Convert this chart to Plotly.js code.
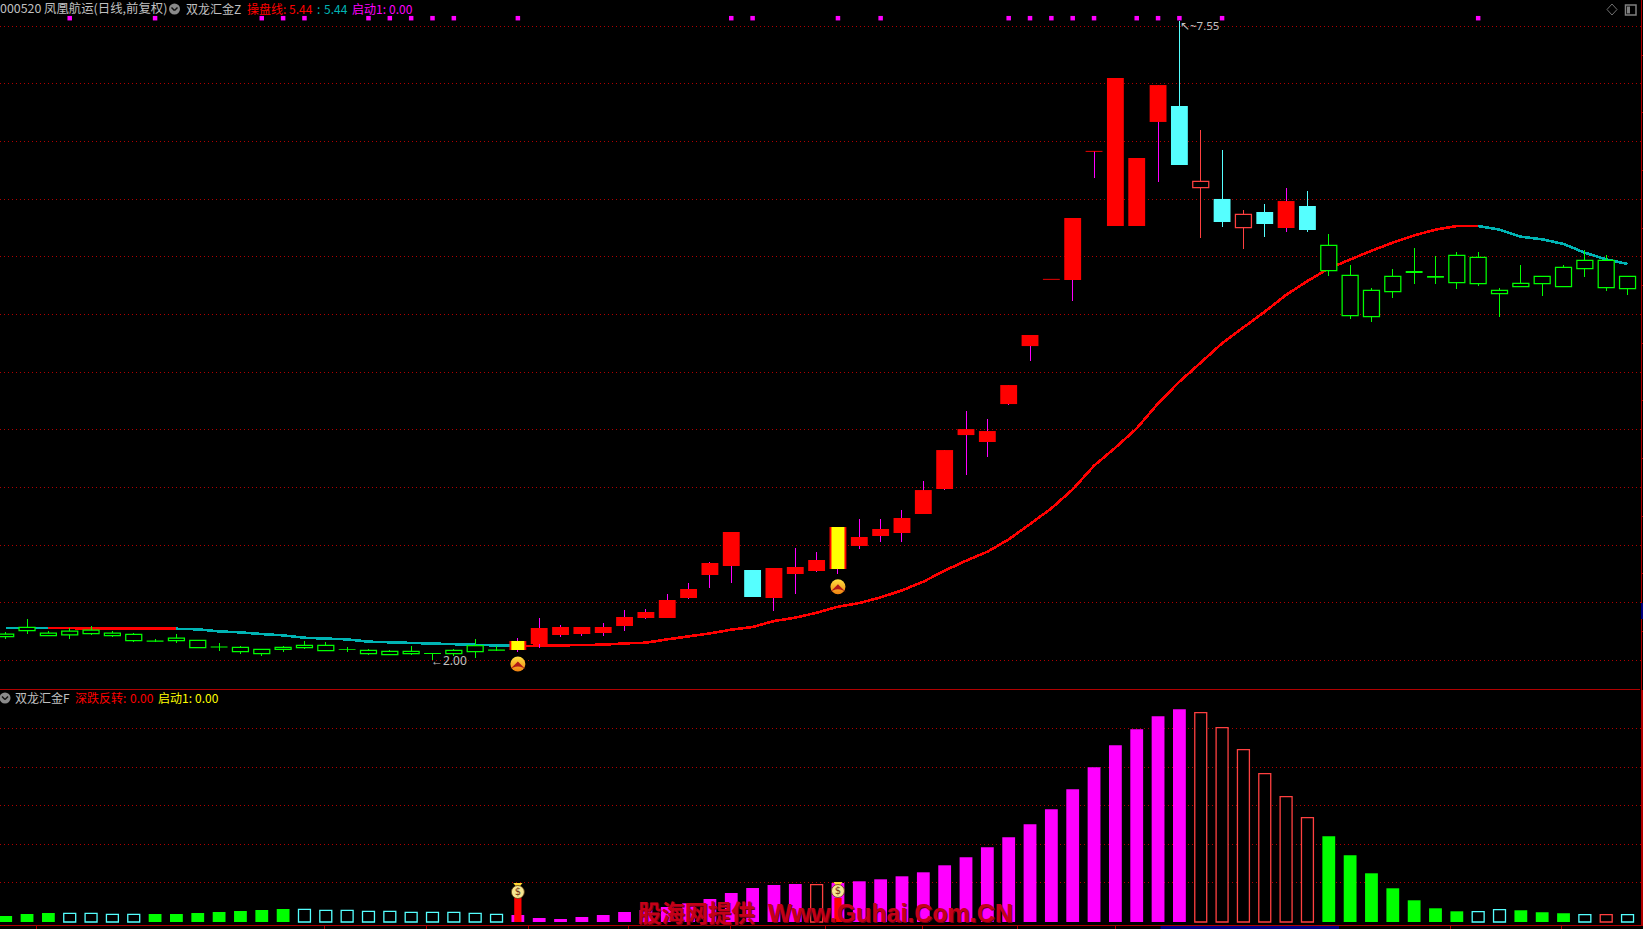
<!DOCTYPE html>
<html>
<head>
<meta charset="utf-8">
<script src="https://cdn.plot.ly/plotly-3.0.1.min.js"></script>
<style>html,body{margin:0;padding:0;background:#000;overflow:hidden}#c{width:1643px;height:929px}
.scatterlayer .js-line{shape-rendering:crispEdges}</style>
</head>
<body>
<div id="c"></div>
<script>
// ---------- data ----------
const bodyTop = [2.228,2.286,2.237,2.254,2.263,2.237,2.225,2.173,2.193,2.173,2.121,2.112,2.095,2.112,2.130,2.130,2.099,2.086,2.078,2.078,2.064,2.086,2.127,2.095,2.167,2.280,2.289,2.289,2.289,2.376,2.419,2.523,2.619,2.844,3.113,2.783,2.801,2.809,2.870,3.156,3.070,3.139,3.234,3.477,3.824,4.006,3.989,4.388,4.822,5.309,5.837,6.419,7.051,6.357,6.990,6.808,6.155,6.002,5.869,5.889,5.984,5.941,5.600,5.339,5.209,5.331,5.377,5.334,5.513,5.496,5.209,5.270,5.331,5.409,5.470,5.470,5.331];
const bodyBottom = [2.205,2.257,2.214,2.222,2.231,2.214,2.170,2.162,2.170,2.110,2.112,2.075,2.058,2.095,2.110,2.084,2.091,2.058,2.049,2.058,2.056,2.058,2.075,2.084,2.089,2.141,2.220,2.228,2.237,2.298,2.367,2.367,2.540,2.740,2.818,2.549,2.540,2.749,2.775,2.792,2.992,3.078,3.104,3.269,3.486,3.954,3.894,4.223,4.726,5.301,5.299,6.411,5.767,5.767,6.670,6.296,6.100,5.802,5.753,5.785,5.750,5.733,5.380,4.990,4.981,5.198,5.360,5.319,5.276,5.267,5.180,5.241,5.267,5.241,5.397,5.232,5.224];
const wickHigh = [2.243,2.358,2.254,2.283,2.298,2.254,2.237,2.188,2.228,2.173,2.150,2.124,2.095,2.124,2.167,2.159,2.112,2.098,2.089,2.124,2.060,2.098,2.185,2.127,2.193,2.367,2.306,2.289,2.324,2.436,2.445,2.575,2.671,2.853,3.113,2.783,2.801,2.974,2.939,3.156,3.226,3.226,3.304,3.555,3.824,4.163,4.093,4.388,4.822,5.305,5.837,6.415,7.051,6.357,6.990,7.55,6.600,6.427,5.906,5.958,6.097,6.071,5.698,5.429,5.230,5.394,5.577,5.507,5.542,5.542,5.230,5.429,5.331,5.429,5.559,5.516,5.331];
const wickLow = [2.188,2.228,2.208,2.185,2.219,2.202,2.159,2.159,2.150,2.110,2.078,2.055,2.037,2.072,2.098,2.084,2.072,2.046,2.046,2.046,2.000,2.040,2.020,2.084,2.072,2.107,2.202,2.211,2.211,2.254,2.358,2.367,2.532,2.627,2.671,2.549,2.428,2.575,2.766,2.749,2.966,3.026,3.026,3.269,3.477,3.607,3.764,4.215,4.596,5.305,5.117,6.187,5.767,5.767,6.149,6.296,5.663,5.759,5.568,5.672,5.715,5.715,5.334,4.961,4.935,5.143,5.264,5.264,5.221,5.247,4.978,5.241,5.160,5.241,5.325,5.204,5.169];
// G hollow green, g solid green, r solid red, y yellow core, c solid cyan, h hollow red
const candleStyle = "GGGGGGGgGGgGGGGGgGGGgGGgyrrrrrrrrrrcrrryrrrrrrrrrrrrrrrchchcrcGGGGggGGGGGGGGGGG".split("");
const controlLine = [2.280,2.280,2.280,2.280,2.280,2.280,2.274,2.274,2.274,2.269,2.251,2.243,2.228,2.217,2.196,2.188,2.182,2.162,2.156,2.153,2.150,2.139,2.136,2.127,2.124,2.127,2.127,2.133,2.136,2.147,2.153,2.182,2.205,2.234,2.266,2.289,2.341,2.370,2.413,2.465,2.497,2.546,2.607,2.682,2.778,2.864,2.942,3.049,3.182,3.318,3.483,3.688,3.845,4.012,4.229,4.417,4.582,4.750,4.888,5.024,5.170,5.290,5.400,5.478,5.553,5.623,5.686,5.736,5.767,5.767,5.736,5.675,5.652,5.611,5.536,5.478,5.438];
// colour of the stretch that starts at each day: c teal, r red
const lineStyle = ("cc"+"rrrrrr"+"cccccccccccccccc"+"rrrrrrrrrrrrrrrrrrrrrrrrrrrrrrrrrrrrrrrrrrrrr"+"cccccccc").split("");
const signalDays = [3,7,12,13,14,17,18,19,20,21,24,34,35,39,41,47,48,49,50,51,53,54,55,57,69];
const signalPrice = [7.57];
const startDays = [24,39];
const startPrice = [1.968,2.638];
const gridPrices = [2,2.5,3,3.5,4,4.5,5,5.5,6,6.5,7,7.5];
const sideTicks = [2.25,2.75,3.25,3.75,4.25,4.75,5.25,5.75,6.25,6.75,7.25];

const oscValues = [6,8,9,8.7,8.7,7.7,7.7,8,8,9,10,11,12,13,12.7,11.7,11.7,10.7,10.7,9.7,9.7,9.7,8.7,7.7,7,4,3,5,7,10,12,15,18.7,23,29,34,37,38,37.3,39,40.7,42.7,45.7,49.7,56.7,64.7,74.7,84.7,97.7,112.7,132.7,154.7,176.7,192.7,205.7,212.7,209.3,194.3,172.3,148.3,125.3,104.3,85.7,66.7,48.7,33.7,21.7,13.7,10.7,10.3,12.3,11.7,9.7,8.7,7.3,7.3,7.3];
// g solid green, C hollow cyan, m solid magenta, h hollow red
const oscStyle = "gggCCCCgggggggCCCCCCCCCCmmmmmmmmmmmmmmhmmmmmmmmmmmmmmmmmhhhhhhgggggggCCgggChC".split("");
const reversalHeights = [25,24];
const bagLevels = [30,31];
const knotLevels = [37,38];
const oscGrid = [39.7,77.7,116.7,154.7,193.7];
const dateTicks = [1.45,14.96,19.7,24.5,29.2,33.97,38.4,42.97,47.4,52,67.7,72.9];

// ---------- palette ----------
const RED='#ff0000', MAG='#ff00ff', CYAN='#55ffff', GREEN='#00ff00', HRED='#ff4040', TEAL='#00b4b4', YEL='#ffff00', GRID='#b00000', AXIS='#b00000';
const idx = bodyTop.map((_,i)=>i);
const fills = {G:'#000',g:GREEN,r:RED,y:RED,c:CYAN,h:'#000'};
const edges = {G:GREEN,g:GREEN,r:RED,y:RED,c:CYAN,h:HRED};
const wickCol = {G:GREEN,g:GREEN,r:MAG,y:MAG,c:CYAN,h:HRED};
const hollow = s=>s==='G'||s==='h';

const data = [];
// control line, under the candles
[['c',TEAL],['r',RED]].forEach(([k,col])=>{
  data.push({type:'scatter',mode:'lines',xaxis:'x',yaxis:'y',x:idx,
    y:controlLine.map((v,i)=>(lineStyle[i]===k||lineStyle[i-1]===k)?v:null),
    line:{color:col,width:2.6},hoverinfo:'skip',showlegend:false});
});
// wicks
[GREEN,MAG,CYAN,HRED].forEach(col=>{
  const xs=[],ys=[];
  idx.forEach(i=>{ if(wickCol[candleStyle[i]]===col && wickHigh[i]>wickLow[i]){xs.push(i,i,null);ys.push(wickHigh[i],wickLow[i],null);} });
  data.push({type:'scatter',mode:'lines',xaxis:'x',yaxis:'y',x:xs,y:ys,line:{color:col,width:1},hoverinfo:'skip',showlegend:false});
});
// signal dots
data.push({type:'scatter',mode:'markers',xaxis:'x',yaxis:'y',x:signalDays,y:signalDays.map(()=>signalPrice[0]),
  marker:{symbol:'square',size:4.5,color:MAG},hoverinfo:'skip',showlegend:false});
// candle bodies, above line and wicks
data.push({type:'bar',xaxis:'x',yaxis:'y3',x:idx,base:bodyBottom,y:bodyTop.map((t,i)=>t-bodyBottom[i]),
  width:candleStyle.map(s=>hollow(s)?0.75:0.79),
  marker:{color:candleStyle.map(s=>fills[s]),line:{color:candleStyle.map(s=>edges[s]),width:candleStyle.map(s=>hollow(s)?1.25:0)}},
  hoverinfo:'skip',showlegend:false});
const yi = idx.filter(i=>candleStyle[i]==='y');
data.push({type:'bar',xaxis:'x',yaxis:'y3',x:yi,base:yi.map(i=>bodyBottom[i]),y:yi.map(i=>bodyTop[i]-bodyBottom[i]),
  width:0.61,marker:{color:YEL,line:{width:0}},hoverinfo:'skip',showlegend:false});
// start coins
data.push({type:'scatter',mode:'markers',xaxis:'x',yaxis:'y3',x:startDays,y:startPrice,
  marker:{symbol:'circle',size:15,color:'#ffe040',gradient:{type:'vertical',color:'#f08010'},line:{width:0}},hoverinfo:'skip',showlegend:false});
data.push({type:'scatter',mode:'markers',xaxis:'x',yaxis:'y3',x:startDays,y:startPrice.map(v=>v+0.022),
  marker:{symbol:'arrow-wide',size:12,color:'#b01818',line:{width:0}},hoverinfo:'skip',showlegend:false});

// oscillator panel
data.push({type:'bar',xaxis:'x',yaxis:'y2',x:idx,y:oscValues,
  width:oscStyle.map(s=>(s==='C'||s==='h')?0.56:0.6),
  marker:{color:oscStyle.map(s=>({g:GREEN,m:MAG,C:'#000',h:'#000'}[s])),
    line:{color:oscStyle.map(s=>({g:GREEN,m:MAG,C:CYAN,h:HRED}[s])),width:oscStyle.map(s=>(s==='C'||s==='h')?1.3:0)}},
  hoverinfo:'skip',showlegend:false});
data.push({type:'bar',xaxis:'x',yaxis:'y2',x:startDays,y:reversalHeights,width:0.34,marker:{color:RED,line:{width:0}},hoverinfo:'skip',showlegend:false});
data.push({type:'scatter',mode:'markers',xaxis:'x',yaxis:'y2',x:startDays,y:knotLevels,
  marker:{symbol:'triangle-down',size:8,color:'#ffd830',line:{width:0}},hoverinfo:'skip',showlegend:false});
data.push({type:'scatter',mode:'markers+text',xaxis:'x',yaxis:'y2',x:startDays,y:bagLevels,
  text:startDays.map(()=>'$'),textposition:'middle center',textfont:{family:'DejaVu Sans',size:10,color:'#703010'},
  marker:{symbol:'circle',size:13,color:'#f6e690',line:{color:'#5a3a10',width:0.8}},hoverinfo:'skip',showlegend:false});

// ---------- text helpers ----------
const W=1643,H=929;
const CJK='"Noto Sans CJK SC","Noto Sans",sans-serif';
const label=(text,px,py,color,size,family,extra)=>Object.assign({xref:'paper',yref:'paper',x:px/W,y:1-py/H,text,xanchor:'left',yanchor:'middle',showarrow:false,
  font:{family:family||CJK,size:size||12,color},borderpad:0,borderwidth:0},extra||{});
const GRAY='#c0c0c0';
const WM='#c40018';
const annotations=[
  label('000520 凤凰航运(日线,前复权)',0,8,GRAY,12.4),
  label('双龙汇金Z',186,8,GRAY),
  label('操盘线:',246.5,8,RED),
  label('5.44',289,8,RED),
  label(':',317,8,TEAL),
  label('5.44',324,8,TEAL),
  label('启动1:',352,8,MAG),
  label('0.00',389,8,MAG),
  label('双龙汇金F',14.5,697,GRAY),
  label('深跌反转:',74.5,697,RED),
  label('0.00',129.5,697,RED),
  label('启动1:',158,697,YEL),
  label('0.00',195,697,YEL),
  {xref:'x',yref:'y3',x:19.85,y:1.995,text:'←2.00',xanchor:'left',yanchor:'middle',showarrow:false,font:{family:'"Noto Sans",sans-serif',size:12,color:GRAY}},
  {xref:'x',yref:'y3',x:54.95,y:7.51,text:'↖~7.55',xanchor:'left',yanchor:'middle',showarrow:false,font:{family:'"Noto Sans",sans-serif',size:11.5,color:GRAY}},
  label('股海网提供',638,911.5,WM,23.4,CJK,{font:{family:CJK,size:23.4,color:WM,weight:'bold',shadow:'1px 1px 0 #700010'}}),
  label('Www.Guhai.Com.CN',768,912.5,WM,25,'"Liberation Sans"',{font:{family:'"Liberation Sans"',size:25,color:WM,weight:'bold',shadow:'1px 1px 0 #700010'}})
];

const rectPx=(x0,y0,x1,y1,o)=>Object.assign({type:'rect',xref:'paper',yref:'paper',x0:x0/W,x1:x1/W,y0:1-y0/H,y1:1-y1/H,layer:'above',line:{width:0}},o);
const linePx=(x0,y0,x1,y1,color,w)=>({type:'line',xref:'paper',yref:'paper',x0:x0/W,x1:x1/W,y0:1-y0/H,y1:1-y1/H,layer:'above',line:{color,width:w}});
const circlePx=(cx,cy,r,col)=>({type:'circle',xref:'paper',yref:'paper',x0:(cx-r)/W,x1:(cx+r)/W,y0:1-(cy-r)/H,y1:1-(cy+r)/H,layer:'above',fillcolor:col,line:{width:0}});
const chevPx=(cx,cy)=>[linePx(cx-3,cy-1.5,cx,cy+1.5,'#101010',1.5),linePx(cx,cy+1.5,cx+3,cy-1.5,'#101010',1.5)];
const shapes=[
  linePx(0,689.5,1640,689.5,AXIS,1),
  circlePx(174.5,9,5.5,'#8a8a8a'),...chevPx(174.5,9),
  circlePx(5,698,5.5,'#8a8a8a'),...chevPx(5,698),
  rectPx(1641,603,1643,619,{fillcolor:'#000080'}),
  rectPx(1160.5,926,1339,929,{fillcolor:'#000080'}),
  // top-right window icons
  {type:'path',xref:'paper',yref:'paper',layer:'above',line:{color:'#707070',width:1},
   path:`M ${1607/W} ${1-9.5/H} L ${1612/W} ${1-4/H} L ${1617/W} ${1-9.5/H} L ${1612/W} ${1-15/H} Z`},
  rectPx(1625.5,5,1636,15,{line:{color:'#808080',width:1.5}}),
  rectPx(1627,6.5,1630,13.5,{fillcolor:'#808080'})
];

const mainLow=1.7471, mainHigh=7.7278;
const layout={
  width:W,height:H,margin:{l:0,r:0,t:0,b:0,pad:0},paper_bgcolor:'#000',plot_bgcolor:'#000',
  barmode:'overlay',showlegend:false,hovermode:false,
  xaxis:{domain:[0,1640.5/W],range:[-0.2671,76.607],anchor:'y2',showgrid:false,zeroline:false,fixedrange:true,
    tickmode:'array',tickvals:dateTicks,ticktext:dateTicks.map(()=>''),ticks:'outside',ticklen:3,tickwidth:1,tickcolor:AXIS,
    showline:true,linecolor:AXIS,linewidth:1},
  yaxis:{domain:[1-689.5/H,1],range:[mainLow,mainHigh],anchor:'x',fixedrange:true,zeroline:false,
    tickmode:'array',tickvals:gridPrices,showticklabels:false,ticks:'',showgrid:true,gridcolor:GRID,gridwidth:1,griddash:'1px,3px',showline:false},
  yaxis3:{overlaying:'y',side:'right',anchor:'x',range:[mainLow,mainHigh],fixedrange:true,zeroline:false,showgrid:false,
    tickmode:'array',tickvals:sideTicks,ticktext:sideTicks.map(()=>''),ticks:'outside',ticklen:3,tickwidth:1,tickcolor:AXIS,
    showline:true,linecolor:AXIS,linewidth:1},
  yaxis2:{domain:[4/H,1-689.5/H],range:[-3,232.5],anchor:'x',side:'right',fixedrange:true,zeroline:false,
    tickmode:'array',tickvals:oscGrid,ticktext:oscGrid.map(()=>''),ticks:'',showgrid:true,gridcolor:GRID,gridwidth:1,griddash:'1px,3px',
    showline:true,linecolor:AXIS,linewidth:2},
  annotations,shapes
};
Plotly.newPlot('c',data,layout,{displayModeBar:false,staticPlot:true});
</script>
</body>
</html>
